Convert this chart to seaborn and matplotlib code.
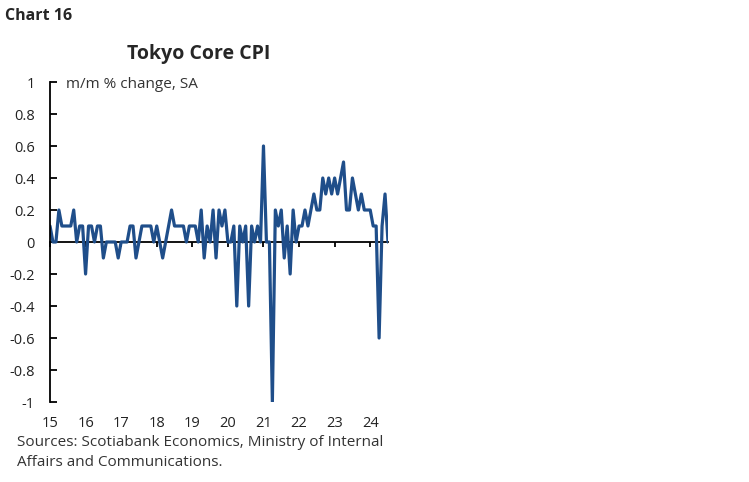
import numpy as np
import pandas as pd
import seaborn as sns
import matplotlib.pyplot as plt

# Tokyo core CPI, m/m % change SA, monthly from Jan 2015
start_year = 2015
cpi_mm = [
    0.1, 0.0, 0.0, 0.2, 0.1, 0.1, 0.1, 0.1, 0.2, 0.0, 0.1, 0.1,      # 2015
    -0.2, 0.1, 0.1, 0.0, 0.1, 0.1, -0.1, 0.0, 0.0, 0.0, 0.0, -0.1,   # 2016
    0.0, 0.0, 0.0, 0.1, 0.1, -0.1, 0.0, 0.1, 0.1, 0.1, 0.1, 0.0,     # 2017
    0.1, 0.0, -0.1, 0.0, 0.1, 0.2, 0.1, 0.1, 0.1, 0.1, 0.0, 0.1,     # 2018
    0.1, 0.1, 0.0, 0.2, -0.1, 0.1, 0.0, 0.2, -0.1, 0.2, 0.1, 0.2,    # 2019
    0.0, 0.0, 0.1, -0.4, 0.1, 0.0, 0.1, -0.4, 0.1, 0.0, 0.1, 0.0,    # 2020
    0.6, 0.0, 0.0, -1.0, 0.2, 0.1, 0.2, -0.1, 0.1, -0.2, 0.2, 0.0,   # 2021
    0.1, 0.1, 0.2, 0.1, 0.2, 0.3, 0.2, 0.2, 0.4, 0.3, 0.4, 0.3,      # 2022
    0.4, 0.3, 0.4, 0.5, 0.2, 0.2, 0.4, 0.3, 0.2, 0.3, 0.2, 0.2,      # 2023
    0.2, 0.1, 0.1, -0.6, 0.1, 0.3, 0.0,                              # 2024
]
year_ticks = list(range(2015, 2025))
year_labels = ["15", "16", "17", "18", "19", "20", "21", "22", "23", "24"]
y_ticks = [-1, -0.8, -0.6, -0.4, -0.2, 0, 0.2, 0.4, 0.6, 0.8, 1]
y_labels = ["-1", "-0.8", "-0.6", "-0.4", "-0.2", "0", "0.2", "0.4", "0.6", "0.8", "1"]

df = pd.DataFrame({
    "date": start_year + np.arange(len(cpi_mm)) / 12,
    "value": cpi_mm,
})

sns.set_style("white")
plt.rcParams["font.family"] = ["Open Sans", "DejaVu Sans"]

W, H = 749, 482
fig = plt.figure(figsize=(W / 100, H / 100), dpi=100)
ax = fig.add_axes([50 / W, 1 - 402 / H, (388 - 50) / W, 320 / H])

sns.lineplot(data=df, x="date", y="value", ax=ax, color="#1f4e8a", linewidth=2.3)

ax.set_xlim(2015, 2024.5)
ax.set_ylim(-1, 1)
ax.set_xlabel("")
ax.set_ylabel("")

for s in ["top", "right"]:
    ax.spines[s].set_visible(False)
ax.spines["left"].set_color("black")
ax.spines["left"].set_linewidth(1.3)
ax.spines["bottom"].set_position(("data", 0))
ax.spines["bottom"].set_color("black")
ax.spines["bottom"].set_linewidth(1.3)
ax.spines["bottom"].set_zorder(1)

ax.set_yticks(y_ticks, labels=y_labels)
ax.tick_params(axis="y", left=True, direction="in", length=5, width=1.3, color="black",
               pad=11, labelsize=10.5, labelcolor="#222222")
ax.set_xticks(year_ticks)
ax.tick_params(axis="x", bottom=True, direction="out", length=3.5, width=1.3,
               color="black", labelbottom=False)

sec = ax.secondary_xaxis("bottom")
sec.spines["bottom"].set_visible(False)
sec.set_xticks(year_ticks, labels=year_labels)
sec.tick_params(length=0, pad=10, labelsize=10.5, labelcolor="#222222")

fig.text(5 / W, 1 - 16 / H, "Chart 16", fontsize=11.5, fontweight="bold", va="center")
fig.text(199 / W, 1 - 54 / H, "Tokyo Core CPI", fontsize=14, fontweight="bold",
         ha="center", va="center")
fig.text(66 / W, 1 - 84 / H, "m/m % change, SA", fontsize=11, color="#333333",
         va="center")
fig.text(17 / W, 1 - 442 / H, "Sources: Scotiabank Economics, Ministry of Internal",
         fontsize=11, color="#333333", va="center")
fig.text(17 / W, 1 - 463 / H, "Affairs and Communications.",
         fontsize=11, color="#333333", va="center")

fig.savefig("out.png", dpi=100)
